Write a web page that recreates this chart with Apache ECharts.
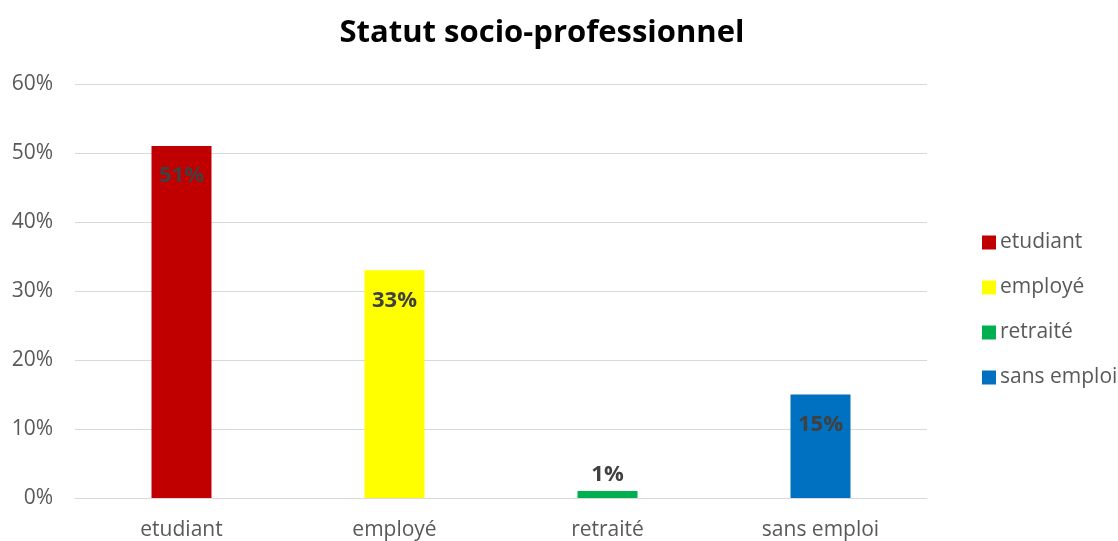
<!DOCTYPE html>
<html><head><meta charset="utf-8">
<script src="https://cdn.jsdelivr.net/npm/echarts@6/dist/echarts.min.js"></script>
<style>html,body{margin:0;padding:0;background:#fff}#c{width:1118px;height:541px}</style>
</head><body><div id="c"></div>
<script>
const categories = ['etudiant', 'employé', 'retraité', 'sans emploi'];
const values = [51, 33, 1, 15];
const colors = ['#C00000', '#FFFF00', '#00B050', '#0070C0'];
const yTicks = [0, 10, 20, 30, 40, 50, 60];
const FONT = 'Open Sans';

const chart = echarts.init(document.getElementById('c'));
const series = categories.map((name, i) => ({
  name: name,
  type: 'bar',
  barWidth: 60,
  barGap: '-100%',
  itemStyle: { color: colors[i] },
  data: categories.map((c, j) => j === i ? values[i] : null),
  label: {
    show: true,
    position: values[i] < 5 ? 'top' : 'insideTop',
    distance: values[i] < 5 ? 5 : 19,
    formatter: p => p.value + '%',
    color: '#404040',
    fontWeight: 'bold',
    fontSize: 22,
    fontFamily: FONT
  }
}));
chart.setOption({
  animation: false,
  textStyle: { fontFamily: FONT },
  title: {
    text: 'Statut socio-professionnel',
    left: 537, top: 13, textAlign: 'center',
    textStyle: { fontSize: 31, fontWeight: 'bold', color: '#000', fontFamily: FONT }
  },
  legend: {
    orient: 'vertical',
    left: 982, top: 232, padding: 0,
    itemWidth: 14, itemHeight: 14, itemGap: 24,
    icon: 'rect',
    textStyle: { fontSize: 21, lineHeight: 21, color: '#595959', fontFamily: FONT, padding: [0,0,0,-1] },
    data: categories
  },
  grid: { left: 75, right: 191, top: 84, bottom: 42 },
  xAxis: {
    type: 'category', data: categories,
    axisLine: { lineStyle: { color: '#d9d9d9', width: 1 } },
    axisTick: { show: false },
    axisLabel: { color: '#595959', fontSize: 21, margin: 22, fontFamily: FONT }
  },
  yAxis: {
    type: 'value', min: yTicks[0], max: yTicks[yTicks.length-1], interval: 10,
    axisLine: { show: false }, axisTick: { show: false },
    splitLine: { lineStyle: { color: '#d9d9d9', width: 1 } },
    axisLabel: { color: '#595959', fontSize: 21, margin: 22, formatter: v => v + '%', fontFamily: FONT }
  },
  series: series
});
</script></body></html>
